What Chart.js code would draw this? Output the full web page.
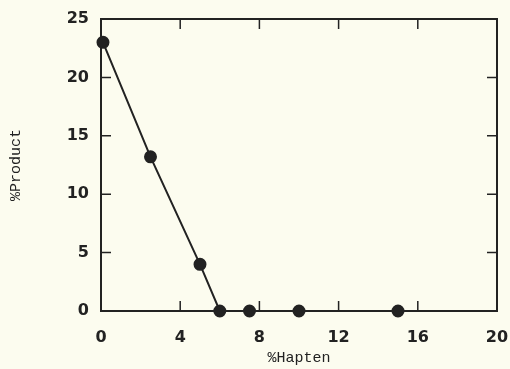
<!DOCTYPE html>
<html>
<head>
<meta charset="utf-8">
<script src="https://cdn.jsdelivr.net/npm/chart.js@4/dist/chart.umd.min.js"></script>
<style>
  html, body { margin: 0; padding: 0; background: #fcfcef; }
  #wrap { width: 510px; height: 369px; }
</style>
</head>
<body>
<div id="wrap"><canvas id="chart"></canvas></div>
<script>
// data
const hapten = [0.1, 2.5, 5, 6, 7.5, 10, 15];
const product = [23, 13.2, 4, 0, 0, 0, 0];
const xTicks = [0, 4, 8, 12, 16, 20];
const yTicks = [0, 5, 10, 15, 20, 25];

const ink = '#222222';

// frame + inward tick marks on all four sides
const frameTicks = {
    id: 'frameTicks',
    afterDatasetsDraw(chart) {
        const { ctx, chartArea: a, scales: { x, y } } = chart;
        const len = 10;
        ctx.save();
        ctx.strokeStyle = ink;
        ctx.lineWidth = 2;
        ctx.strokeRect(a.left, a.top, a.right - a.left, a.bottom - a.top);
        ctx.lineWidth = 1.5;
        ctx.beginPath();
        xTicks.slice(1, -1).forEach(v => {
            const px = x.getPixelForValue(v);
            ctx.moveTo(px, a.bottom); ctx.lineTo(px, a.bottom - len);
            ctx.moveTo(px, a.top); ctx.lineTo(px, a.top + len);
        });
        yTicks.slice(1, -1).forEach(v => {
            const py = y.getPixelForValue(v);
            ctx.moveTo(a.left, py); ctx.lineTo(a.left + len, py);
            ctx.moveTo(a.right, py); ctx.lineTo(a.right - len, py);
        });
        ctx.stroke();
        ctx.restore();
    }
};

const tickFont = { family: 'DejaVu Sans', weight: 'bold', size: 16 };
const titleFont = { family: 'Liberation Mono', size: 15 };

new Chart(document.getElementById('chart'), {
    type: 'scatter',
    data: {
        datasets: [{
            data: hapten.map((h, i) => ({ x: h, y: product[i] })),
            showLine: true,
            borderColor: ink,
            borderWidth: 2,
            backgroundColor: ink,
            pointRadius: 5.5,
            pointHoverRadius: 5.5,
            clip: false
        }]
    },
    options: {
        responsive: true,
        maintainAspectRatio: false,
        animation: false,
        layout: { padding: { top: 19, right: 13, left: 0, bottom: 0 } },
        plugins: { legend: { display: false }, tooltip: { enabled: false } },
        scales: {
            x: {
                type: 'linear',
                min: 0, max: 20,
                afterBuildTicks: s => { s.ticks = xTicks.map(v => ({ value: v })); },
                afterFit: s => { s.height = 58; s.paddingLeft = 0; s.paddingRight = 0; },
                grid: { display: false, drawTicks: false },
                border: { display: false },
                ticks: { color: ink, font: tickFont, padding: 17, maxRotation: 0 },
                title: { display: true, text: '%Hapten', color: ink, font: titleFont, padding: { top: 0, bottom: 2 } }
            },
            y: {
                type: 'linear',
                min: 0, max: 25,
                afterBuildTicks: s => { s.ticks = yTicks.map(v => ({ value: v })); },
                afterFit: s => { s.width = 101; s.paddingTop = 0; s.paddingBottom = 0; },
                grid: { display: false, drawTicks: false },
                border: { display: false },
                ticks: { color: ink, font: tickFont, padding: 12 },
                title: { display: true, text: '%Product', color: ink, font: titleFont, padding: { top: 7, bottom: 0 } }
            }
        }
    },
    plugins: [frameTicks]
});
</script>
</body>
</html>
